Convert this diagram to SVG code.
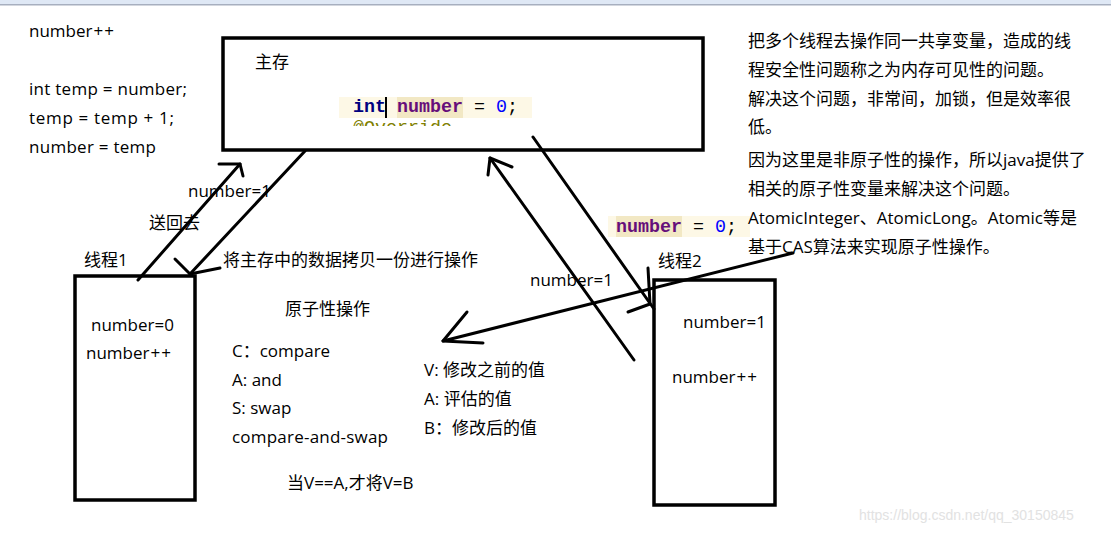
<svg xmlns="http://www.w3.org/2000/svg" width="1111" height="535" viewBox="0 0 1111 535">
<style>
.t{font-family:"Open Sans","Noto Sans CJK SC",sans-serif;font-size:17px;fill:#000}
.box{fill:none;stroke:#000;stroke-width:3.5}
.ln{fill:none;stroke:#000;stroke-width:3;stroke-linecap:round;stroke-linejoin:round}
.code{font-family:"Liberation Mono",monospace;font-size:18.33px;white-space:pre}
.wm{font-family:"Liberation Sans",Arial,sans-serif;font-size:14px;fill:#e2e2e2}
</style>
<defs>
<clipPath id="ovclip"><rect x="340" y="119" width="200" height="7"/></clipPath>
</defs>
<rect width="1111" height="535" fill="#fff"/>
<rect x="0" y="0" width="1111" height="4" fill="#dfe8f5"/>
<rect x="0" y="4" width="1111" height="1.5" fill="#a7afbf"/>

<g id="code-notes">
<text class="t" x="29" y="37">number<tspan dx="1">+</tspan><tspan dx="1">+</tspan></text>
<text class="t" x="29" y="95" textLength="158" lengthAdjust="spacing">int temp = number;</text>
<text class="t" x="29" y="124" textLength="145" lengthAdjust="spacing">temp = temp + 1;</text>
<text class="t" x="29" y="153" textLength="127" lengthAdjust="spacing">number = temp</text>
</g>

<g id="main-memory">
<rect class="box" x="223" y="38" width="480" height="112"/>
<text class="t" x="255" y="68">主存</text>
<rect x="339" y="97" width="193" height="21" fill="#fdf8e6"/>
<rect x="397" y="97" width="66" height="21" fill="#f2e8c4"/>
<text class="code" x="353" y="112"><tspan font-weight="bold" fill="#000080">int</tspan><tspan> </tspan><tspan font-weight="bold" fill="#660e7a">number</tspan><tspan fill="#000"> = </tspan><tspan fill="#0000ff">0</tspan><tspan fill="#000">;</tspan></text>
<rect x="385" y="97" width="2" height="21" fill="#000"/>
<text class="code" x="353" y="133" fill="#808000" clip-path="url(#ovclip)">@Override</text>
</g>

<g id="code-snippet-2">
<rect x="608" y="216" width="142" height="21" fill="#fdf8e6"/>
<rect x="616" y="216" width="66" height="21" fill="#f2e8c4"/>
<text class="code" x="616" y="232"><tspan font-weight="bold" fill="#660e7a">number</tspan><tspan fill="#000"> = </tspan><tspan fill="#0000ff">0</tspan><tspan fill="#000">;</tspan></text>
</g>

<g id="thread1">
<rect class="box" x="75" y="276" width="120" height="224"/>
<text class="t" x="84" y="266">线程1</text>
<text class="t" x="91" y="331">number=0</text>
<text class="t" x="86" y="359">number<tspan dx="1">+</tspan><tspan dx="1">+</tspan></text>
</g>

<g id="thread2">
<rect class="box" x="654" y="280" width="121" height="225"/>
<text class="t" x="658" y="267">线程2</text>
<text class="t" x="683" y="328">number=1</text>
<text class="t" x="672" y="383">number<tspan dx="1">+</tspan><tspan dx="1">+</tspan></text>
</g>

<g id="labels">
<text class="t" x="188" y="197">number=1</text>
<text class="t" x="149" y="229">送回去</text>
<text class="t" x="223" y="266">将主存中的数据拷贝一份进行操作</text>
<text class="t" x="530" y="286">number=1</text>
<text class="t" x="285" y="315">原子性操作</text>
<text class="t" x="232" y="357">C：compare</text>
<text class="t" x="232" y="386">A: and</text>
<text class="t" x="232" y="414">S: swap</text>
<text class="t" x="232" y="443" textLength="156" lengthAdjust="spacing">compare-and-swap</text>
<text class="t" x="424" y="376">V: 修改之前的值</text>
<text class="t" x="424" y="405">A: 评估的值</text>
<text class="t" x="424" y="434">B：修改后的值</text>
<text class="t" x="287" y="489">当V==A,才将V=B</text>
</g>

<g id="explanation">
<text class="t" x="748" y="47">把多个线程去操作同一共享变量，造成的线</text>
<text class="t" x="748" y="76">程安全性问题称之为内存可见性的问题。</text>
<text class="t" x="748" y="105">解决这个问题，非常间，加锁，但是效率很</text>
<text class="t" x="748" y="133">低。</text>
<text class="t" x="748" y="166">因为这里是非原子性的操作，所以java提供了</text>
<text class="t" x="748" y="195">相关的原子性变量来解决这个问题。</text>
<text class="t" x="748" y="224">AtomicInteger、AtomicLong。Atomic等是</text>
<text class="t" x="748" y="253">基于CAS算法来实现原子性操作。</text>
</g>

<g id="connectors">
<line class="ln" x1="138" y1="280" x2="240" y2="164"/>
<polyline class="ln" points="219,164 240,164 243,176"/>
<line class="ln" x1="305" y1="151" x2="190" y2="274"/>
<polyline class="ln" points="175,259 190,274 220,268"/>
<line class="ln" x1="634" y1="360" x2="490" y2="158"/>
<polyline class="ln" points="512,167 490,158 488,175"/>
<line class="ln" x1="533" y1="137" x2="654" y2="309"/>
<polyline class="ln" points="648,268 650,304 628,312"/>
<line class="ln" x1="793" y1="253" x2="443" y2="341"/>
<polyline class="ln" points="467,312 443,341 483,343"/>
</g>

<text class="wm" x="859" y="520">https://blog.csdn.net/qq_30150845</text>
</svg>
